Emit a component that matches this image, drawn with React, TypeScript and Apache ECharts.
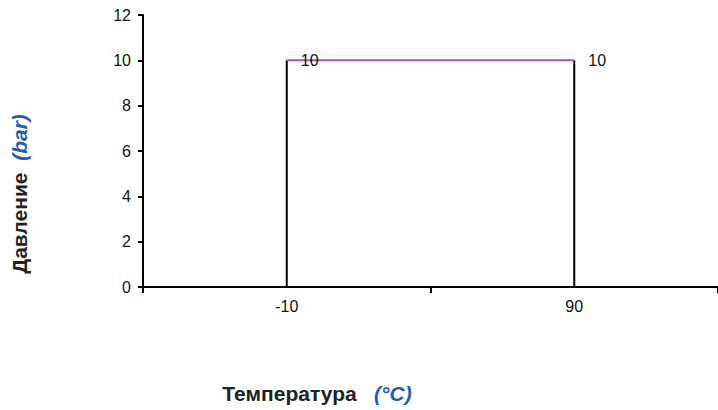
import React, { useEffect, useRef } from "react";
import * as echarts from "echarts";

const categories = ["-10", "90"];
const pressure = [10, 10];
const yTicks = { min: 0, max: 12, interval: 2 };
const yTitle = "Давление";
const yUnit = "(bar)";
const xTitle = "Температура";
const xUnit = "(°C)";

export default function App() {
  const ref = useRef<HTMLDivElement>(null);
  useEffect(() => {
    if (!ref.current) return;
    const chart = echarts.init(ref.current, undefined, { renderer: "svg" });
    const font = "'Liberation Sans', Arial, sans-serif";
    chart.setOption({
      animation: false,
      textStyle: { fontFamily: font },
      grid: { left: 143, top: 15, bottom: 123, right: -4, containLabel: false },
      xAxis: {
        type: "category",
        data: categories,
        boundaryGap: true,
        axisLine: { show: true, lineStyle: { color: "#000", width: 2 } },
        axisTick: { show: true, length: 6, lineStyle: { color: "#000", width: 2 } },
        axisLabel: { color: "#111", fontSize: 16, margin: 11, fontFamily: font },
        splitLine: { show: false },
      },
      yAxis: {
        type: "value",
        min: yTicks.min,
        max: yTicks.max,
        interval: yTicks.interval,
        axisLine: { show: true, lineStyle: { color: "#000", width: 2 } },
        axisTick: { show: true, length: 5, lineStyle: { color: "#000", width: 2 } },
        axisLabel: { color: "#111", fontSize: 16, margin: 12, fontFamily: font },
        splitLine: { show: false },
      },
      series: [
        {
          type: "line",
          data: [[0, 0], [0, pressure[0]]],
          symbol: "none",
          lineStyle: { color: "#000", width: 2 },
          z: 2,
        },
        {
          type: "line",
          data: [[1, 0], [1, pressure[1]]],
          symbol: "none",
          lineStyle: { color: "#000", width: 2 },
          z: 2,
        },
        {
          type: "line",
          data: pressure,
          symbol: "circle",
          symbolSize: 0,
          lineStyle: { color: "#b050b0", width: 2 },
          itemStyle: { color: "#b050b0" },
          label: {
            show: true,
            position: "right",
            distance: 14,
            color: "#111",
            fontSize: 16,
            fontFamily: font,
          },
          z: 3,
        },
      ],
      graphic: [
        {
          type: "text",
          x: 19,
          y: 194,
          rotation: Math.PI / 2,
          style: {
            text: `{a|${yTitle}}{s|  }{b|${yUnit}}`,
            align: "center",
            verticalAlign: "middle",
            rich: {
              a: { fontSize: 21, fontWeight: "bold", fill: "#222", fontFamily: font },
              s: { fontSize: 21, fontFamily: font },
              b: { fontSize: 21, fontWeight: "bold", fontStyle: "italic", fill: "#1f5fae", fontFamily: font },
            },
          },
        },
        {
          type: "text",
          x: 317,
          y: 393,
          style: {
            text: `{a|${xTitle}}{s|   }{b|${xUnit}}`,
            align: "center",
            verticalAlign: "middle",
            rich: {
              a: { fontSize: 21, fontWeight: "bold", fill: "#222", fontFamily: font },
              s: { fontSize: 21, fontFamily: font },
              b: { fontSize: 21, fontWeight: "bold", fontStyle: "italic", fill: "#1f5fae", fontFamily: font },
            },
          },
        },
      ],
    });
    return () => chart.dispose();
  }, []);
  return <div ref={ref} style={{ width: 718, height: 410, position: "absolute", left: 0, top: 0 }} />;
}
